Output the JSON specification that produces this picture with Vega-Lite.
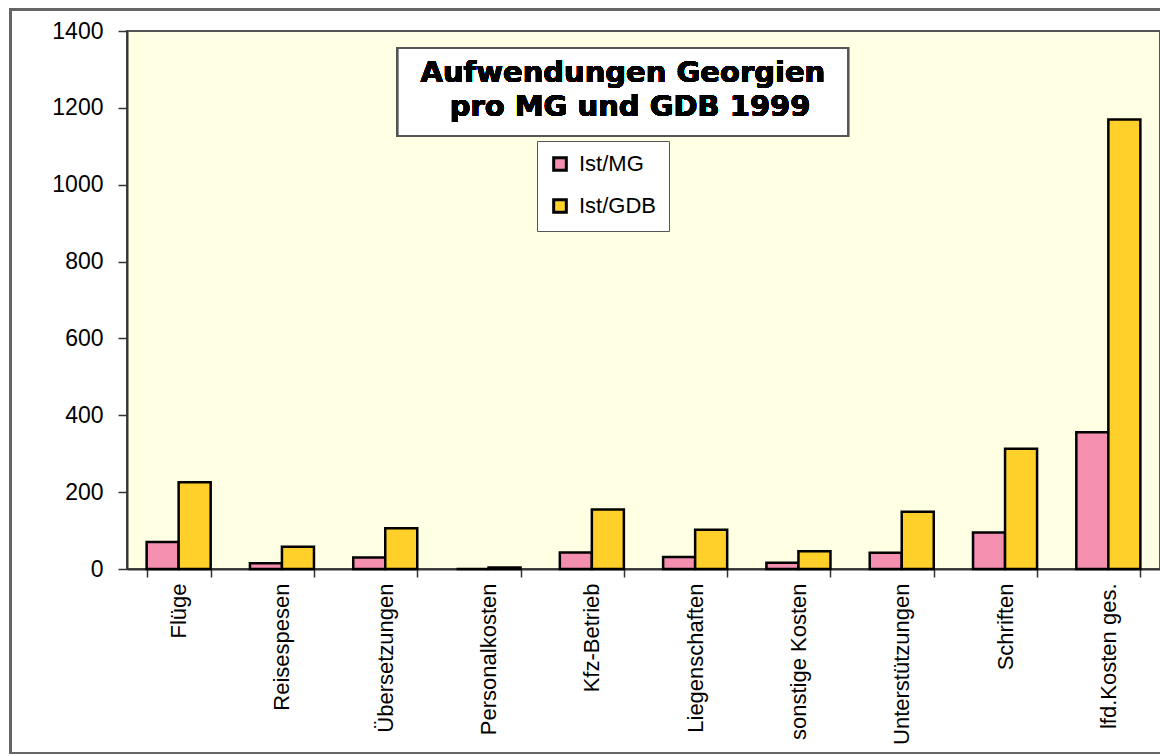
{
  "$schema": "https://vega.github.io/schema/vega-lite/v6.json",
  "autosize": {"type": "none"},
  "padding": {"left": 127, "top": 31, "right": 0, "bottom": 187},
  "width": 1033,
  "height": 538,
  "background": "#ffffff",
  "config": {
    "view": {"fill": "#FFFFE3", "stroke": "#555555", "strokeWidth": 2},
    "font": "Liberation Sans"
  },
  "datasets": {
    "costs": [
      {"kategorie": "Flüge", "serie": "Ist/MG", "wert": 70},
      {"kategorie": "Flüge", "serie": "Ist/GDB", "wert": 226},
      {"kategorie": "Reisespesen", "serie": "Ist/MG", "wert": 15},
      {"kategorie": "Reisespesen", "serie": "Ist/GDB", "wert": 58},
      {"kategorie": "Übersetzungen", "serie": "Ist/MG", "wert": 30},
      {"kategorie": "Übersetzungen", "serie": "Ist/GDB", "wert": 106},
      {"kategorie": "Personalkosten", "serie": "Ist/MG", "wert": 0},
      {"kategorie": "Personalkosten", "serie": "Ist/GDB", "wert": 4},
      {"kategorie": "Kfz-Betrieb", "serie": "Ist/MG", "wert": 43},
      {"kategorie": "Kfz-Betrieb", "serie": "Ist/GDB", "wert": 155},
      {"kategorie": "Liegenschaften", "serie": "Ist/MG", "wert": 31},
      {"kategorie": "Liegenschaften", "serie": "Ist/GDB", "wert": 102},
      {"kategorie": "sonstige Kosten", "serie": "Ist/MG", "wert": 16},
      {"kategorie": "sonstige Kosten", "serie": "Ist/GDB", "wert": 46},
      {"kategorie": "Unterstützungen", "serie": "Ist/MG", "wert": 42},
      {"kategorie": "Unterstützungen", "serie": "Ist/GDB", "wert": 149},
      {"kategorie": "Schriften", "serie": "Ist/MG", "wert": 95},
      {"kategorie": "Schriften", "serie": "Ist/GDB", "wert": 313},
      {"kategorie": "lfd.Kosten ges.", "serie": "Ist/MG", "wert": 356},
      {"kategorie": "lfd.Kosten ges.", "serie": "Ist/GDB", "wert": 1170}
    ]
  },
  "data": {"name": "costs"},
  "resolve": {"scale": {"x": "independent"}},
  "layer": [
    {
      "mark": {"type": "rect", "fill": null, "stroke": "#666666", "strokeWidth": 2, "clip": false},
      "encoding": {
        "x": {"datum": -0.113, "type": "quantitative", "scale": {"domain": [0, 1]}, "axis": null},
        "x2": {"datum": 1.05},
        "y": {"datum": 1455, "type": "quantitative", "scale": {"domain": [0, 1400]}},
        "y2": {"datum": -479}
      }
    },
    {
      "mark": {"type": "bar", "stroke": "#000000", "strokeWidth": 2.5},
      "encoding": {
        "x": {
          "field": "kategorie", "type": "nominal", "sort": null,
          "scale": {"paddingInner": 0.38, "paddingOuter": 0.19},
          "axis": {
            "title": null, "labelAngle": -90, "labelAlign": "right", "labelBaseline": "middle",
            "labelFontSize": 22, "labelColor": "#000000", "labelPadding": 6, "labelDy": -6,
            "labelLimit": 300,
            "tickBand": "extent", "tickSize": 8, "tickColor": "#333333", "tickWidth": 1.5,
            "domainColor": "#333333", "domainWidth": 2, "grid": false
          }
        },
        "xOffset": {"field": "serie", "type": "nominal", "sort": ["Ist/MG", "Ist/GDB"]},
        "y": {
          "field": "wert", "type": "quantitative",
          "scale": {"domain": [0, 1400], "nice": false},
          "axis": {
            "title": null, "values": [0, 200, 400, 600, 800, 1000, 1200, 1400],
            "labelFontSize": 23, "labelColor": "#000000", "labelPadding": 15,
            "tickSize": 9, "tickColor": "#333333", "tickWidth": 1.5,
            "domainColor": "#333333", "domainWidth": 2, "grid": false, "format": "d"
          }
        },
        "fill": {
          "field": "serie", "type": "nominal",
          "scale": {"domain": ["Ist/MG", "Ist/GDB"], "range": ["#F48FB0", "#FFCF2A"]},
          "legend": {
            "title": null, "orient": "none", "legendX": 410, "legendY": 110,
            "direction": "vertical",
            "fillColor": "#ffffff", "strokeColor": "#555555",
            "padding": 12, "rowPadding": 16,
            "labelFontSize": 22, "labelColor": "#000000", "labelOffset": 8,
            "symbolType": "square", "symbolSize": 160, "symbolStrokeColor": "#000000",
            "symbolStrokeWidth": 3, "symbolOpacity": 1
          }
        }
      }
    },
    {
      "mark": {"type": "rect", "fill": "#ffffff", "stroke": "#555555", "strokeWidth": 2},
      "encoding": {
        "x": {"datum": 0.262, "type": "quantitative", "scale": {"domain": [0, 1]}, "axis": null},
        "x2": {"datum": 0.698},
        "y": {"datum": 1356, "type": "quantitative"},
        "y2": {"datum": 1127}
      }
    },
    {
      "mark": {"type": "text", "text": "Aufwendungen Georgien", "font": "DejaVu Sans", "fontWeight": "bold", "fontSize": 29, "align": "center", "baseline": "middle", "fill": "#000000", "strokeWidth": 0},
      "encoding": {
        "x": {"datum": 0.48, "type": "quantitative", "scale": {"domain": [0, 1]}, "axis": null},
        "y": {"datum": 1290, "type": "quantitative"}
      }
    },
    {
      "mark": {"type": "text", "text": "pro MG und GDB 1999", "font": "DejaVu Sans", "fontWeight": "bold", "fontSize": 29, "align": "center", "baseline": "middle", "fill": "#000000", "strokeWidth": 0},
      "encoding": {
        "x": {"datum": 0.487, "type": "quantitative", "scale": {"domain": [0, 1]}, "axis": null},
        "y": {"datum": 1202, "type": "quantitative"}
      }
    }
  ]
}
